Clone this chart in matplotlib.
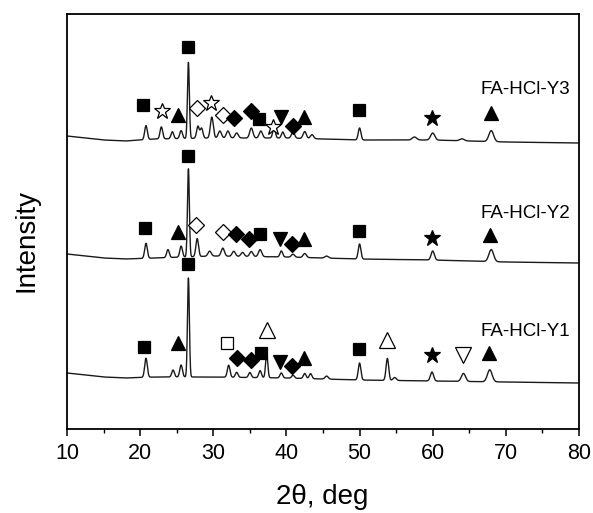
import numpy as np
import matplotlib
matplotlib.use("Agg")
import matplotlib.pyplot as plt

plt.rcParams['font.family'] = ['Liberation Sans', 'DejaVu Sans']

# ---------------- data (intensity in arbitrary units, stacked) ----------------
two_theta = np.arange(10.0, 80.001, 0.02)

# baseline levels (2theta knots, intensity)
base_knots = [10, 15, 18, 22, 30, 40, 45, 50, 60, 70, 80]
y3_base = [293, 289, 288, 290, 291, 291, 290, 289, 289, 287, 286]
y2_base = [175, 171, 170, 171, 173, 172, 171, 170, 169, 167, 166]
y1_base = [56, 52, 51, 52, 52, 51, 50, 49, 48, 47, 46]

# peaks: position (deg), height above baseline, width (deg, sigma)
y3_pos = [20.8, 22.9, 24.4, 25.6, 26.6, 27.9, 28.4, 29.8, 30.9, 32.0, 33.2, 35.2, 36.5, 38.3, 39.5, 40.9, 42.5, 43.5, 50.0, 57.5, 60.0, 64.0, 68.0]
y3_hgt = [14, 12, 7, 8, 76, 12, 10, 21, 7, 7, 5, 10, 7, 10, 6, 6, 7, 4, 12, 3, 7, 2, 11]
y3_wid = [0.18, 0.18, 0.18, 0.18, 0.13, 0.18, 0.18, 0.2, 0.22, 0.22, 0.22, 0.22, 0.22, 0.18, 0.18, 0.22, 0.22, 0.22, 0.18, 0.3, 0.28, 0.3, 0.32]

y2_pos = [20.8, 23.8, 25.6, 26.6, 27.8, 29.5, 31.3, 32.8, 34.0, 35.2, 36.4, 39.3, 40.9, 42.5, 45.5, 50.0, 60.0, 68.0]
y2_hgt = [15, 8, 11, 88, 18, 5, 8, 5, 4, 5, 7, 6, 3, 4, 2, 15, 9, 12]
y2_wid = [0.18, 0.18, 0.18, 0.13, 0.18, 0.22, 0.22, 0.22, 0.22, 0.22, 0.22, 0.18, 0.22, 0.22, 0.25, 0.18, 0.22, 0.32]

y1_pos = [20.8, 24.5, 25.6, 26.6, 32.1, 33.2, 35.0, 36.4, 37.3, 39.3, 40.9, 42.5, 43.3, 45.5, 50.0, 53.8, 54.8, 59.9, 64.2, 67.8]
y1_hgt = [19, 7, 12, 99, 12, 5, 5, 7, 24, 5, 3, 5, 5, 3, 17, 22, 3, 9, 8, 12]
y1_wid = [0.18, 0.18, 0.18, 0.13, 0.18, 0.18, 0.18, 0.18, 0.15, 0.18, 0.18, 0.18, 0.18, 0.22, 0.18, 0.18, 0.22, 0.22, 0.28, 0.32]

# phase markers: position, level, symbol
y3_mk_pos = [20.4, 23.0, 25.2, 26.5, 27.8, 29.7, 31.3, 32.9, 35.1, 36.3, 38.1, 39.3, 40.9, 42.4, 49.9, 59.9, 68.0]
y3_mk_lvl = [324, 318, 314, 382, 321, 326, 314, 311, 318, 310, 302, 312, 303, 312, 319, 311, 316]
y3_mk_sym = ['sq', 'ostar', 'tri', 'sq', 'odia', 'ostar', 'odia', 'dia', 'dia', 'sq', 'ostar', 'tdn', 'dia', 'tri', 'sq', 'star', 'tri']

y2_mk_pos = [20.7, 25.2, 26.5, 27.6, 31.3, 33.1, 34.9, 36.4, 39.1, 40.7, 42.4, 49.9, 59.9, 67.9]
y2_mk_lvl = [201, 197, 273, 204, 197, 195, 190, 195, 190, 185, 190, 198, 191, 194]
y2_mk_sym = ['sq', 'tri', 'sq', 'odia', 'odia', 'dia', 'dia', 'sq', 'tdn', 'dia', 'tri', 'sq', 'star', 'tri']

y1_mk_pos = [20.5, 25.2, 26.5, 31.9, 33.2, 35.2, 36.5, 37.3, 39.1, 40.7, 42.4, 49.9, 53.8, 59.9, 64.1, 67.7]
y1_mk_lvl = [82, 86, 165, 86, 71, 69, 76, 99, 67, 63, 71, 80, 89, 74, 74, 76]
y1_mk_sym = ['sq', 'tri', 'sq', 'osq', 'dia', 'dia', 'sq', 'otri', 'tdn', 'dia', 'tri', 'sq', 'otri', 'star', 'otdn', 'tri']

labels = ['FA-HCl-Y3', 'FA-HCl-Y2', 'FA-HCl-Y1']
label_lvl = [339, 215, 98]
x_ticks = [10, 20, 30, 40, 50, 60, 70, 80]

# ---------------- drawing ----------------
sym_style = {
    'sq':    dict(marker='s', ms=8.8, mfc='black', mec='black'),
    'osq':   dict(marker='s', ms=8.3, mfc='white', mec='black'),
    'tri':   dict(marker='^', ms=10, mfc='black', mec='black'),
    'otri':  dict(marker='^', ms=11, mfc='white', mec='black'),
    'tdn':   dict(marker='v', ms=10, mfc='black', mec='black'),
    'otdn':  dict(marker='v', ms=11, mfc='white', mec='black'),
    'dia':   dict(marker='D', ms=7.8, mfc='black', mec='black'),
    'odia':  dict(marker='D', ms=7.8, mfc='white', mec='black'),
    'star':  dict(marker='*', ms=12, mfc='black', mec='black'),
    'ostar': dict(marker='*', ms=12, mfc='white', mec='black'),
}


def pattern(base, pos, hgt, wid):
    y = np.interp(two_theta, base_knots, base)
    for p, h, w in zip(pos, hgt, wid):
        y = y + h * np.exp(-0.5 * ((two_theta - p) / w) ** 2)
    return y


fig = plt.figure(figsize=(5.93, 5.13), dpi=100)
ax = fig.add_axes([67 / 593, 1 - 429 / 513, 512 / 593, 415 / 513])

traces = [
    (y3_base, y3_pos, y3_hgt, y3_wid, y3_mk_pos, y3_mk_lvl, y3_mk_sym),
    (y2_base, y2_pos, y2_hgt, y2_wid, y2_mk_pos, y2_mk_lvl, y2_mk_sym),
    (y1_base, y1_pos, y1_hgt, y1_wid, y1_mk_pos, y1_mk_lvl, y1_mk_sym),
]
for (base, pos, hgt, wid, mpos, mlvl, msym), lab, ll in zip(traces, labels, label_lvl):
    ax.plot(two_theta, pattern(base, pos, hgt, wid), color='#1a1a1a', lw=1.0)
    for xp, yl, s in zip(mpos, mlvl, msym):
        ax.plot([xp], [yl], linestyle='none', mew=0.9, **sym_style[s])
    ax.text(78.8, ll, lab, ha='right', va='center', fontsize=13.5)

ax.set_xlim(10, 80)
ax.set_ylim(0, 415)
ax.set_xticks(x_ticks)
ax.set_xticks(np.arange(15, 80, 10), minor=True)
ax.set_yticks([])
ax.tick_params(axis='x', which='major', direction='out', length=5, width=1.1, labelsize=15.5, pad=5)
ax.tick_params(axis='x', which='minor', direction='out', length=3, width=1.0)
for sp in ax.spines.values():
    sp.set_linewidth(1.3)

fig.text(322 / 593, 1 - 497 / 513, '2\u03b8, deg', ha='center', va='center', fontsize=20)
fig.text(26 / 593, 1 - 240 / 513, 'Intensity', ha='center', va='center', rotation=90, fontsize=20)

fig.savefig('out.png', dpi=100)
